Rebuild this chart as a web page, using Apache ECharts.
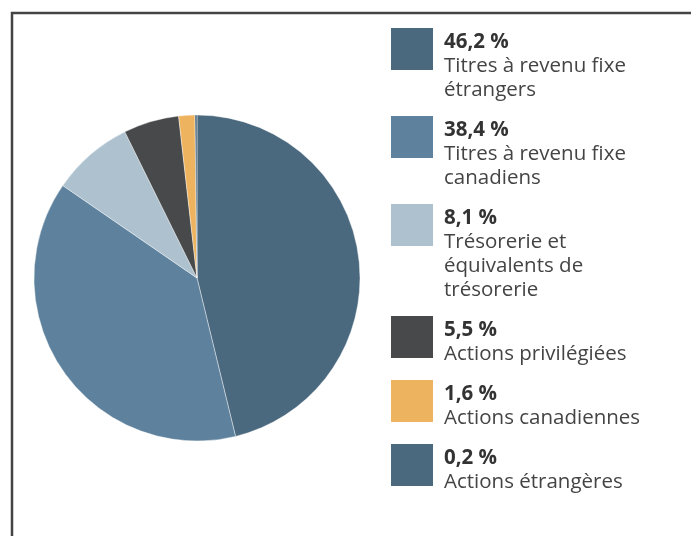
<!DOCTYPE html>
<html>
<head>
<meta charset="utf-8">
<script src="https://cdn.jsdelivr.net/npm/echarts@6/dist/echarts.min.js"></script>
<style>
  html, body { margin: 0; padding: 0; background: #fff; }
  #chart { width: 691px; height: 536px; }
</style>
</head>
<body>
<div id="chart"></div>
<script>
// categories, in pie order (clockwise from 12 o'clock)
const categories = [
  'Titres à revenu fixe étrangers',
  'Titres à revenu fixe canadiens',
  'Trésorerie et équivalents de trésorerie',
  'Actions privilégiées',
  'Actions canadiennes',
  'Actions étrangères'
]
// share of the portfolio, %
const values = [46.2, 38.4, 8.1, 5.5, 1.6, 0.2]
// legend text as it is broken into lines
const legendLines = [
  ['Titres à revenu fixe', 'étrangers'],
  ['Titres à revenu fixe', 'canadiens'],
  ['Trésorerie et', 'équivalents de', 'trésorerie'],
  ['Actions privilégiées'],
  ['Actions canadiennes'],
  ['Actions étrangères']
]
const colors = ['#4a687e', '#5e829d', '#adc1cf', '#48494b', '#eeb35f', '#4a687e']

const chart = echarts.init(document.getElementById('chart'))

const lineH = 24
const iconSize = 44
// top of each legend square
const iconTops = [28, 116, 204, 316, 380, 444]

const fmtPct = v => v.toFixed(1).replace('.', ',') + ' %'

// one legend per entry so each square can sit next to the first text line
const legends = categories.map((name, i) => {
  const H = (legendLines[i].length + 1) * lineH
  const T = H - iconSize + 6
  return {
    data: [name],
    orient: 'vertical',
    left: 389,
    top: iconTops[i] - 2,
    padding: 0,
    itemWidth: iconSize,
    itemHeight: iconSize,
    icon: 'rect',
    selectedMode: false,
    formatter: () => '{p|' + fmtPct(values[i]) + '}\n' +
      legendLines[i].map(l => '{n|' + l + '}').join('\n'),
    textStyle: {
      padding: [T, 0, 0, 5],
      rich: {
        p: { fontFamily: 'Open Sans', fontSize: 20.5, fontWeight: 'bold', color: '#333', lineHeight: lineH },
        n: { fontFamily: 'Open Sans', fontSize: 20.5, color: '#444', lineHeight: lineH }
      }
    }
  }
})

const option = {
  animation: false,
  color: colors,
  legend: legends,
  graphic: [{
    type: 'polyline',
    shape: { points: [[12, 536], [12, 13], [691, 13]] },
    style: { stroke: '#444', lineWidth: 2.5, fill: null }
  }],
  series: [{
    type: 'pie',
    center: [197, 278],
    radius: 163,
    startAngle: 90,
    clockwise: true,
    silent: true,
    label: { show: false },
    labelLine: { show: false },
    itemStyle: { borderColor: '#fff', borderWidth: 0.4 },
    data: categories.map((name, i) => ({ name: name, value: values[i] }))
  }]
}

chart.setOption(option)
</script>
</body>
</html>
